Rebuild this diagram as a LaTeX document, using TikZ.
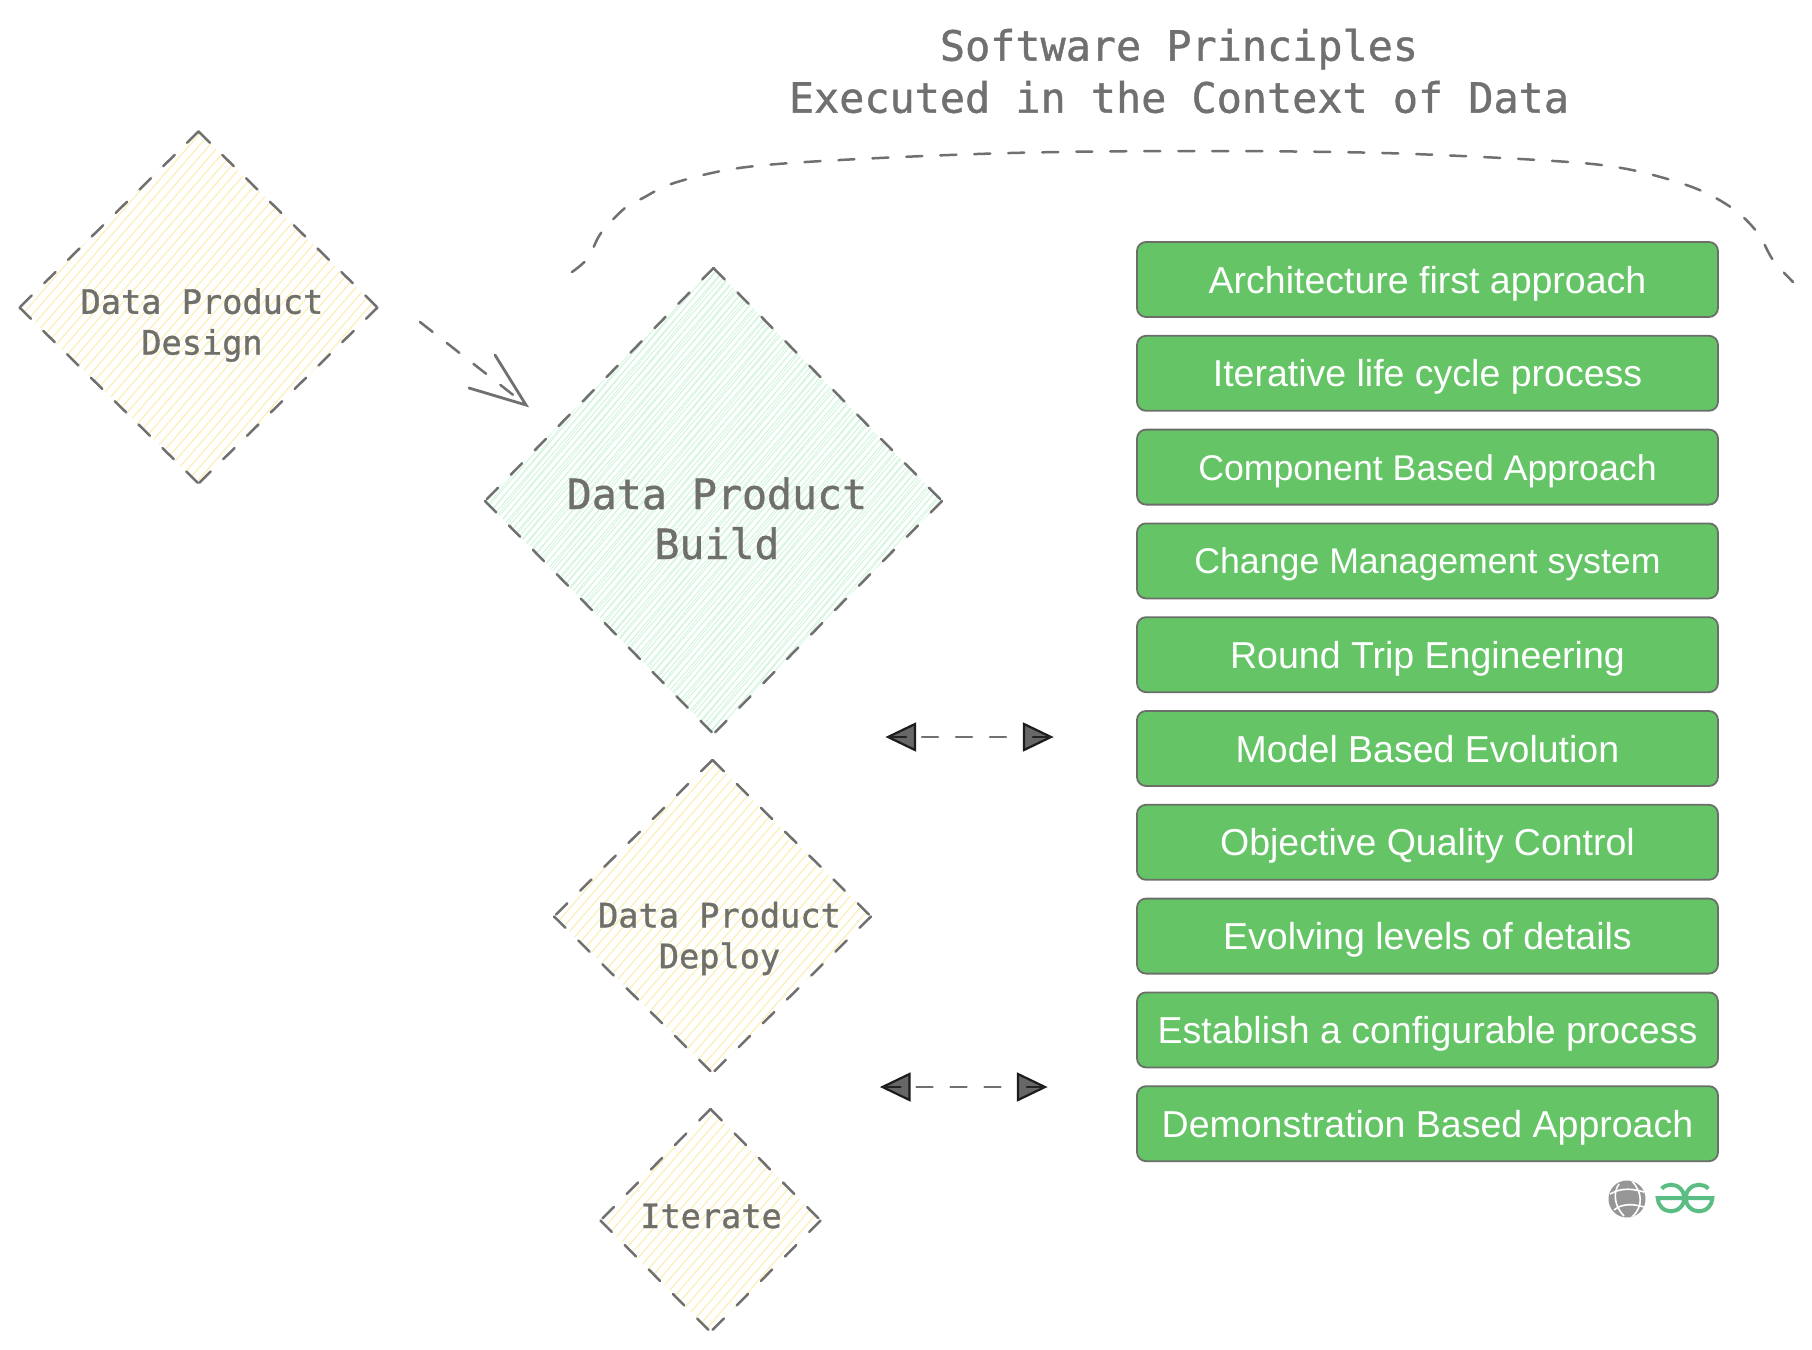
\documentclass[tikz,border=0pt]{standalone}
\usepackage{fontspec}
\setmainfont{Liberation Sans}
\newfontfamily\monof[FakeBold=1]{DejaVu Sans Mono}
\usetikzlibrary{shapes.geometric}
\definecolor{inkgray}{HTML}{707070}
\definecolor{txtgray}{HTML}{70706A}
\definecolor{hatchY}{HTML}{FDEFB8}
\definecolor{hatchG}{HTML}{CFF5DB}
\definecolor{boxgreen}{HTML}{64C466}
\definecolor{boxedge}{HTML}{6A6F6A}
\definecolor{logogreen}{HTML}{5CBD84}
\definecolor{globegray}{HTML}{969696}
\tikzset{
  x=0.5pt,y=-0.5pt,
  diashape/.style={diamond,inner sep=0pt,outer sep=0pt,draw=none},
  hatchyellow/.style={path picture={
    \foreach \i in {-40,...,40}{
      \draw[hatchY,line width=0.6pt]
        ([shift={(\i*10-200,230)}]path picture bounding box.center) -- ++(400,-460);
    }}},
  hatchgreen/.style={path picture={
    \foreach \i in {-60,...,60}{
      \draw[hatchG,line width=0.45pt]
        ([shift={(\i*6.3-250,290)}]path picture bounding box.center) -- ++(500,-580);
      \draw[hatchG,line width=0.35pt]
        ([shift={(\i*8.9-250,305)}]path picture bounding box.center) -- ++(500,-610);
    }}},
  bigtxt/.style={font=\monof\fontsize{20.8}{22}\selectfont,text=txtgray,align=center,inner sep=0pt},
  smalltxt/.style={font=\monof\fontsize{16.8}{18}\selectfont,text=txtgray,align=center,inner sep=0pt},
  titletxt/.style={font=\monof\fontsize{20.9}{26}\selectfont,text=inkgray,align=center,inner sep=0pt},
  stepbox/.style={draw=boxedge,fill=boxgreen,line width=0.9pt,rounded corners=4.5pt,
    minimum width=290.5pt,minimum height=37.5pt,inner sep=0pt,text=white,
    text height=13.5pt,text depth=0pt,
    font=\fontsize{18.75}{22}\selectfont},
  narrowtxt/.style={font=\fontsize{17.85}{22}\selectfont,text height=12.9pt},
  dashline/.style={draw=inkgray,line width=1.25pt,line cap=round,dash pattern=on 8pt off 9pt},
  headline/.style={draw=inkgray,line width=1.4pt,line cap=round,line join=miter},
  tribody/.style={draw=black!75!inkgray,fill=black!8!inkgray,line width=1.1pt,line join=miter},
}
\newcommand\dsides[2]{%
  \foreach \p/\q in {north/east,east/south,north/west,west/south}{
    \draw[draw=inkgray,line width=1.25pt,line cap=round,dash pattern=on 8pt off #2pt] (#1.\p) -- (#1.\q);
  }}
\newcommand\dbltip[2]{%
  \draw[tribody] (#1) -- ++(#2*27,-13) -- ++(0,26) -- cycle;
  \draw[draw=black!70!inkgray,line width=1.25pt,line cap=round] (#1) -- ++(#2*18,0);}
\begin{document}
\begin{tikzpicture}
\useasboundingbox[fill=white] (0,0) rectangle (1812,1350);

% diamonds
\node[diashape,hatchyellow,minimum width=179pt,minimum height=176pt] (design) at (198.5,307.5) {};
\node[diashape,hatchgreen,minimum width=228.5pt,minimum height=233pt] (build) at (713.5,501) {};
\node[diashape,hatchyellow,minimum width=158.5pt,minimum height=156.5pt] (deploy) at (712.5,916.5) {};
\node[diashape,hatchyellow,minimum width=110pt,minimum height=111.5pt] (iterate) at (710.5,1220.5) {};
\dsides{design}{8.7}
\dsides{build}{9.1}
\dsides{deploy}{9}
\dsides{iterate}{9.2}

% diamond texts
\node[smalltxt] (designtxt) at (202,325) {Data Product\\[2.4pt]Design};
\node[bigtxt] (buildtxt) at (717,518.5) {Data Product\\[3pt]Build};
\node[smalltxt] (deploytxt) at (719.5,938.5) {Data Product\\[2.4pt]Deploy};
\node[smalltxt] (iteratetxt) at (711,1216) {Iterate};

% title
\node[titletxt] (title) at (1179,71) {Software Principles\\Executed in the Context of Data};

% boxes
\foreach \t/\sty [count=\n from 0] in {Architecture first approach/stepbox,Iterative life cycle process/stepbox,Component Based Approach/narrowtxt,Change Management system/narrowtxt,Round Trip Engineering/stepbox,Model Based Evolution/stepbox,Objective Quality Control/stepbox,Evolving levels of details/stepbox,Establish a configurable process/stepbox,Demonstration Based Approach/stepbox}{
  \node[stepbox,\sty] (b\n) at (1427.5,{279.5+93.8*\n}) {\t};
}

% arrow design to build
\coordinate (aStart) at (420,322);
\coordinate (aTip) at (526,405);
\coordinate (aBarbA) at (495,355);
\coordinate (aBarbB) at (469,388);
\draw[dashline] (aStart) -- (aTip);
\draw[headline] (aBarbA) -- (aTip) -- (aBarbB);

% double arrows
\coordinate (dA1) at (888,737);
\coordinate (dA2) at (1051,737);
\coordinate (dB1) at (882.5,1087);
\coordinate (dB2) at (1045,1087);
\draw[dashline] (dA1) -- (dA2);
\draw[dashline] (dB1) -- (dB2);
\dbltip{dA1}{1}
\dbltip{dA2}{-1}
\dbltip{dB1}{1}
\dbltip{dB2}{-1}

% dashed curve
\draw[dashline] plot[smooth,tension=.55] coordinates {(572,272) (588,258) (601,233) (625,208) (643,198) (674,183) (739,168) (840,160) (1010,153) (1189,151) (1383,153) (1554,161) (1627,169) (1692,187) (1732,208) (1757,232) (1773,260) (1793,282)};

% logo: globe
\begin{scope}
\fill[globegray] (1627,1199) circle (18.5);
\clip (1627,1199) circle (18.5);
\draw[white,line width=0.8pt] (1610,1194) .. controls (1622,1187) and (1634,1189) .. (1644,1192);
\draw[white,line width=0.8pt] (1614,1210) .. controls (1622,1203) and (1634,1204) .. (1644,1207);
\draw[white,line width=0.8pt] (1619,1184) .. controls (1613,1192) and (1614,1206) .. (1624,1216);
\draw[white,line width=0.8pt] (1632,1181) .. controls (1642,1192) and (1644,1206) .. (1632,1217);
\end{scope}

% logo: mark
\begin{scope}[line width=2pt,line cap=butt]
\draw[logogreen] (1661.6,1188.6) arc[start angle=-135,delta angle=315,radius=13.3] -- (1684.3,1198);
\draw[logogreen] (1708.4,1188.6) arc[start angle=-45,delta angle=-315,radius=13.3] -- (1685.7,1198);
\end{scope}
\end{tikzpicture}
\end{document}
